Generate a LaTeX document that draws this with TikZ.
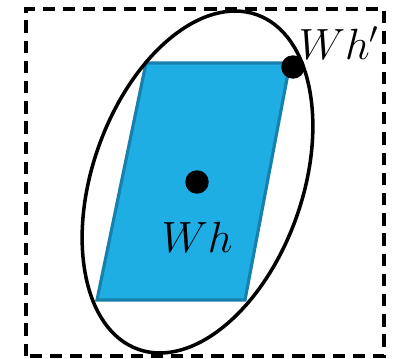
\documentclass[tikz,border=0pt]{standalone}
\usepackage{xcolor}
\usepackage{amsmath}
\usepackage{tikz}
\usetikzlibrary{positioning}

\definecolor{cellfill}{RGB}{30,174,228}
\definecolor{celledge}{RGB}{24,128,172}

\begin{document}
\begin{tikzpicture}[x=0.02cm, y=0.02cm,
    frame/.style={draw, line width=2pt, dash pattern=on 7pt off 4.5pt},
    cell/.style={fill=cellfill, draw=celledge, line width=1.8pt, line join=miter},
    hull/.style={draw, line width=2pt},
    pt/.style={circle, fill=black, inner sep=0pt, minimum size=0.47cm},
    lbl/.style={font=\fontsize{26}{30}\selectfont, inner sep=0pt}]
    \useasboundingbox (0,0) rectangle (400,359);
    \draw[frame] (26,3) rectangle (384,350);
    % parallelogram
    \coordinate (tl) at (146,296);
    \coordinate (tr) at (290,296);
    \coordinate (br) at (245,59);
    \coordinate (bl) at (97,59);
    \draw[cell] (tl) -- (tr) -- (br) -- (bl) -- cycle;
    \draw[hull, rotate around={-19.5:(197.5,177)}] (197.5,177) ellipse (105 and 177.5);
    \node[pt] (wh) at (197,177) {};
    \node[pt] (whp) at (293,292) {};
    \node[lbl, below=0.56cm of wh] (whlbl) {$Wh$};
    \node[lbl] (whplbl) at (339,316) {$Wh'$};
\end{tikzpicture}
\end{document}
